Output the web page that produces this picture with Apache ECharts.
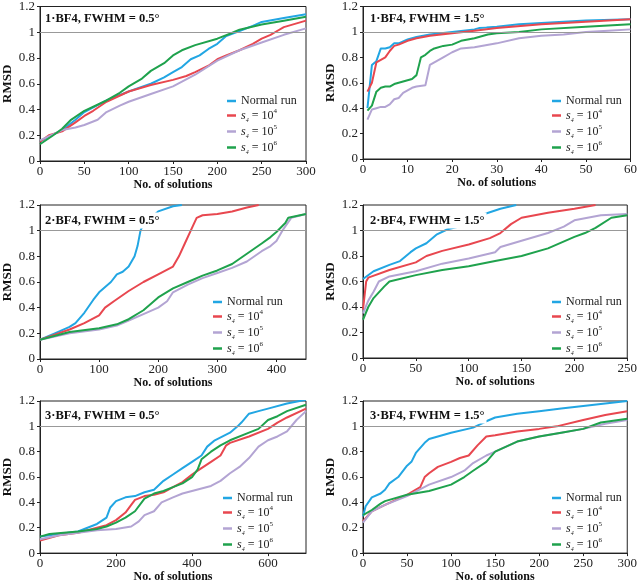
<!DOCTYPE html>
<html><head><meta charset="utf-8">
<script src="https://cdn.jsdelivr.net/npm/echarts@6/dist/echarts.min.js"></script>
<style>html,body{margin:0;padding:0;background:#fff}#c{width:640px;height:584px}</style>
</head><body><div id="c"></div>
<script>
// ---- data ----
const seriesNames = ['Normal run', 's4=10^4', 's4=10^5', 's4=10^6'];
const panelTitles = ['1·BF4, FWHM = 0.5°', '1·BF4, FWHM = 1.5°', '2·BF4, FWHM = 0.5°', '2·BF4, FWHM = 1.5°', '3·BF4, FWHM = 0.5°', '3·BF4, FWHM = 1.5°'];
const xMax = [300, 60, 450, 250, 700, 300];
const xStep = [50, 10, 100, 50, 200, 50];

const p1_normal = [[0,0.15],[10,0.19],[25,0.24],[40,0.32],[50,0.38],[75,0.47],[100,0.54],[125,0.6],[140,0.65],[150,0.69],[160,0.73],[170,0.79],[180,0.82],[190,0.87],[200,0.91],[210,0.97],[225,1.01],[240,1.05],[250,1.08],[275,1.11],[300,1.14]];
const p1_s4 = [[0,0.15],[10,0.2],[25,0.23],[40,0.3],[50,0.35],[60,0.39],[75,0.46],[100,0.54],[125,0.59],[150,0.63],[165,0.66],[175,0.69],[190,0.74],[200,0.79],[210,0.82],[225,0.86],[240,0.91],[250,0.95],[260,0.98],[265,1.0],[275,1.04],[300,1.09]];
const p1_s5 = [[0,0.16],[25,0.24],[40,0.26],[50,0.28],[65,0.32],[75,0.38],[90,0.43],[100,0.46],[125,0.52],[150,0.58],[175,0.67],[200,0.78],[225,0.86],[250,0.92],[275,0.98],[300,1.03]];
const p1_s6 = [[0,0.13],[15,0.2],[25,0.25],[35,0.32],[50,0.39],[75,0.47],[90,0.53],[100,0.58],[115,0.64],[125,0.7],[140,0.76],[150,0.82],[160,0.86],[175,0.9],[200,0.95],[215,0.99],[225,1.02],[250,1.06],[275,1.09],[300,1.12]];

const p2_normal = [[1,0.4],[2,0.74],[3,0.77],[4,0.87],[5,0.87],[6,0.88],[7,0.91],[8,0.91],[10,0.94],[12,0.96],[15,0.98],[20,1.0],[25,1.02],[26,1.03],[30,1.04],[35,1.06],[40,1.07],[50,1.09],[60,1.1]];
const p2_s4 = [[1,0.53],[2,0.6],[3,0.76],[4,0.78],[5,0.8],[6,0.85],[7,0.89],[8,0.9],[10,0.93],[12,0.95],[15,0.97],[20,0.99],[25,1.01],[30,1.03],[40,1.06],[50,1.08],[60,1.1]];
const p2_s5 = [[1,0.31],[2,0.39],[3,0.4],[4,0.41],[5,0.41],[6,0.43],[7,0.47],[8,0.48],[9,0.52],[10,0.54],[11,0.56],[12,0.57],[14,0.58],[15,0.74],[16,0.76],[18,0.8],[20,0.84],[22,0.87],[25,0.88],[30,0.91],[35,0.95],[40,0.97],[45,0.98],[50,1.0],[55,1.01],[60,1.02]];
const p2_s6 = [[1,0.38],[2,0.42],[3,0.53],[4,0.56],[5,0.57],[6,0.57],[7,0.59],[8,0.6],[9,0.61],[10,0.62],[11,0.63],[12,0.66],[13,0.8],[14,0.82],[15,0.85],[16,0.87],[18,0.89],[20,0.9],[22,0.93],[25,0.95],[28,0.98],[30,0.99],[35,1.0],[40,1.02],[50,1.04],[55,1.05],[60,1.06]];

const p3_normal = [[0,0.15],[25,0.2],[50,0.25],[60,0.28],[75,0.36],[90,0.46],[100,0.52],[120,0.6],[130,0.66],[140,0.68],[150,0.72],[160,0.8],[165,0.88],[170,1.0],[175,1.05],[200,1.15],[225,1.19],[240,1.2]];
const p3_s4 = [[0,0.15],[25,0.19],[50,0.23],[75,0.28],[100,0.34],[110,0.4],[125,0.45],[150,0.53],[175,0.6],[200,0.66],[225,0.72],[235,0.8],[245,0.9],[255,1.0],[265,1.1],[275,1.12],[300,1.13],[325,1.15],[350,1.18],[370,1.2]];
const p3_s5 = [[0,0.15],[50,0.2],[100,0.23],[130,0.26],[150,0.3],[175,0.35],[200,0.4],[215,0.45],[225,0.52],[250,0.58],[275,0.63],[300,0.67],[325,0.71],[350,0.76],[375,0.84],[390,0.88],[400,0.92],[410,1.0],[425,1.1],[450,1.13]];
const p3_s6 = [[0,0.15],[50,0.21],[100,0.24],[130,0.27],[150,0.31],[175,0.38],[200,0.48],[225,0.55],[250,0.6],[275,0.65],[300,0.69],[325,0.74],[350,0.82],[375,0.9],[390,0.95],[400,0.99],[415,1.06],[420,1.1],[450,1.13]];

const p4_normal = [[0,0.62],[10,0.68],[25,0.73],[35,0.76],[45,0.83],[50,0.86],[60,0.9],[70,0.97],[80,1.01],[90,1.03],[115,1.13],[130,1.17],[145,1.2]];
const p4_s4 = [[0,0.38],[3,0.6],[5,0.63],[25,0.69],[50,0.75],[60,0.8],[75,0.84],[100,0.89],[120,0.94],[130,0.98],[140,1.05],[150,1.1],[175,1.14],[200,1.17],[220,1.2]];
const p4_s5 = [[0,0.35],[5,0.45],[10,0.52],[15,0.6],[25,0.64],[50,0.68],[75,0.74],[100,0.78],[125,0.83],[130,0.87],[150,0.92],[175,0.98],[190,1.03],[200,1.08],[225,1.12],[250,1.13]];
const p4_s6 = [[0,0.3],[5,0.4],[10,0.47],[20,0.56],[25,0.6],[50,0.65],[75,0.69],[100,0.72],[125,0.76],[150,0.8],[175,0.86],[200,0.95],[210,0.98],[220,1.02],[235,1.1],[250,1.12]];

const p5_normal = [[0,0.13],[50,0.15],[100,0.17],[125,0.2],[150,0.23],[175,0.28],[185,0.36],[200,0.41],[225,0.44],[250,0.45],[275,0.48],[300,0.5],[325,0.57],[350,0.62],[375,0.67],[400,0.72],[425,0.77],[440,0.84],[460,0.89],[500,0.95],[520,1.0],[530,1.03],[550,1.1],[575,1.12],[600,1.14],[650,1.18],[700,1.21]];
const p5_s4 = [[0,0.1],[50,0.14],[100,0.16],[150,0.2],[175,0.22],[200,0.26],[225,0.32],[240,0.38],[250,0.42],[275,0.45],[300,0.46],[325,0.48],[350,0.52],[375,0.56],[400,0.62],[425,0.67],[450,0.72],[475,0.77],[490,0.85],[500,0.87],[550,0.92],[600,0.98],[625,1.03],[650,1.07],[700,1.14]];
const p5_s5 = [[0,0.11],[50,0.14],[100,0.16],[150,0.18],[200,0.19],[240,0.21],[260,0.25],[275,0.3],[300,0.33],[320,0.4],[350,0.44],[375,0.47],[400,0.49],[450,0.53],[475,0.57],[500,0.63],[525,0.68],[550,0.75],[575,0.84],[600,0.89],[625,0.92],[650,0.96],[675,1.05],[700,1.12]];
const p5_s6 = [[0,0.13],[25,0.15],[100,0.17],[150,0.19],[175,0.21],[200,0.24],[225,0.28],[250,0.33],[275,0.43],[300,0.47],[325,0.49],[350,0.52],[375,0.55],[400,0.6],[415,0.66],[425,0.74],[450,0.8],[475,0.85],[500,0.89],[550,0.95],[575,0.98],[600,1.05],[625,1.08],[650,1.12],[700,1.17]];

const p6_normal = [[0,0.29],[3,0.37],[10,0.44],[20,0.47],[25,0.5],[30,0.55],[40,0.6],[50,0.69],[55,0.72],[60,0.79],[70,0.87],[75,0.9],[85,0.92],[100,0.95],[125,0.99],[140,1.04],[150,1.07],[175,1.1],[200,1.12],[225,1.14],[250,1.16],[275,1.18],[300,1.2]];
const p6_s4 = [[0,0.25],[10,0.33],[25,0.38],[50,0.46],[60,0.5],[65,0.52],[70,0.6],[75,0.63],[85,0.68],[100,0.72],[110,0.75],[120,0.77],[130,0.85],[140,0.92],[150,0.93],[175,0.96],[200,0.98],[220,1.0],[250,1.05],[275,1.09],[300,1.12]];
const p6_s5 = [[0,0.24],[10,0.33],[25,0.38],[50,0.45],[75,0.54],[100,0.6],[115,0.65],[125,0.71],[140,0.77],[150,0.8],[175,0.88],[200,0.92],[225,0.95],[250,0.98],[275,1.02],[300,1.05]];
const p6_s6 = [[0,0.3],[10,0.34],[20,0.39],[25,0.41],[50,0.46],[75,0.49],[100,0.54],[115,0.6],[125,0.65],[140,0.72],[150,0.8],[175,0.88],[200,0.92],[225,0.95],[250,0.98],[270,1.03],[300,1.06]];

const panelData = [
  [p1_normal, p1_s4, p1_s5, p1_s6],
  [p2_normal, p2_s4, p2_s5, p2_s6],
  [p3_normal, p3_s4, p3_s5, p3_s6],
  [p4_normal, p4_s4, p4_s5, p4_s6],
  [p5_normal, p5_s4, p5_s5, p5_s6],
  [p6_normal, p6_s4, p6_s5, p6_s6]
];

// ---- layout / style ----
const colors = ['#22A6E3', '#E8474F', '#B3A4D3', '#1FA24D'];
const FONT = 'Liberation Serif';
const grids = [
  {left: 39, top: 5, width: 267, height: 156},
  {left: 363, top: 6, width: 268, height: 153},
  {left: 39, top: 205, width: 267, height: 154},
  {left: 363, top: 205, width: 268, height: 153},
  {left: 39, top: 401, width: 267, height: 153},
  {left: 363, top: 401, width: 268, height: 153}
];
const legendPos = [[227, 95], [552, 95], [213, 296], [552, 296], [223, 492], [552, 492]];
const titlePos = [[43, 10.5], [368, 10.5], [43, 212.5], [368, 212.5], [43, 407.5], [368, 407.5]];

const option = {
  animation: false,
  color: colors,
  grid: grids.map(g => Object.assign({show: true, borderColor: '#222', borderWidth: 1, backgroundColor: 'transparent'}, g)),
  title: panelTitles.map((t, i) => ({
    text: t, left: titlePos[i][0], top: titlePos[i][1],
    padding: [1, 2], backgroundColor: '#fff',
    textStyle: {fontFamily: FONT, fontWeight: 'bold', fontSize: 12.5, lineHeight: 14, color: '#111'}
  })),
  legend: legendPos.map(p => ({
    left: p[0], top: p[1], orient: 'vertical', icon: 'rect',
    itemWidth: 9, itemHeight: 2.5, itemGap: 1, padding: 0,
    data: seriesNames,
    formatter: function (name) {
      if (name === 'Normal run') return '{t|Normal run}';
      const e = name.split('^')[1];
      return '{i|s}{sub|4}{t| = 10}{sup|' + e + '}';
    },
    textStyle: {
      fontFamily: FONT, fontSize: 12, color: '#222',
      rich: {
        t: {fontFamily: FONT, fontSize: 12, color: '#222', lineHeight: 15},
        i: {fontFamily: FONT, fontSize: 12, fontStyle: 'italic', color: '#222', lineHeight: 15},
        sub: {fontFamily: FONT, fontSize: 6, fontStyle: 'italic', color: '#222', lineHeight: 7, verticalAlign: 'bottom'},
        sup: {fontFamily: FONT, fontSize: 7, color: '#222', lineHeight: 8, verticalAlign: 'top'}
      }
    }
  })),
  xAxis: grids.map((g, i) => ({
    type: 'value', gridIndex: i, min: 0, max: xMax[i], interval: xStep[i],
    name: 'No. of solutions', nameLocation: 'middle', nameGap: 16,
    nameTextStyle: {fontFamily: FONT, fontWeight: 'bold', fontSize: 12, color: '#111'},
    axisLine: {show: true, lineStyle: {color: '#222', width: 1}},
    axisTick: {show: true, length: 3, lineStyle: {color: '#222'}},
    axisLabel: {fontFamily: FONT, fontSize: 13, color: '#222', margin: 4, showMaxLabel: xMax[i] % xStep[i] === 0},
    splitLine: {show: false}
  })),
  yAxis: grids.map((g, i) => ({
    type: 'value', gridIndex: i, min: 0, max: 1.2, interval: 0.2,
    name: 'RMSD', nameLocation: 'middle', nameGap: 26,
    nameTextStyle: {fontFamily: FONT, fontWeight: 'bold', fontSize: 13, color: '#111'},
    axisLine: {show: true, lineStyle: {color: '#222', width: 1}},
    axisTick: {show: true, length: 3, lineStyle: {color: '#222'}},
    axisLabel: {fontFamily: FONT, fontSize: 13, color: '#222', margin: 5},
    splitLine: {show: false}
  })),
  series: []
};

panelData.forEach((arrs, p) => {
  arrs.forEach((d, s) => {
    const ser = {
      type: 'line', name: seriesNames[s], xAxisIndex: p, yAxisIndex: p,
      data: d, showSymbol: false, symbol: 'none', clip: true,
      lineStyle: {width: 2, color: colors[s]}, itemStyle: {color: colors[s]}
    };
    if (s === 0) {
      ser.markLine = {
        silent: true, symbol: 'none', label: {show: false}, animation: false,
        lineStyle: {color: '#999', width: 1, type: 'solid'},
        data: [{yAxis: 1}]
      };
    }
    option.series.push(ser);
  });
});

const chart = echarts.init(document.getElementById('c'), null, {renderer: 'canvas'});
chart.setOption(option);
</script></body></html>
